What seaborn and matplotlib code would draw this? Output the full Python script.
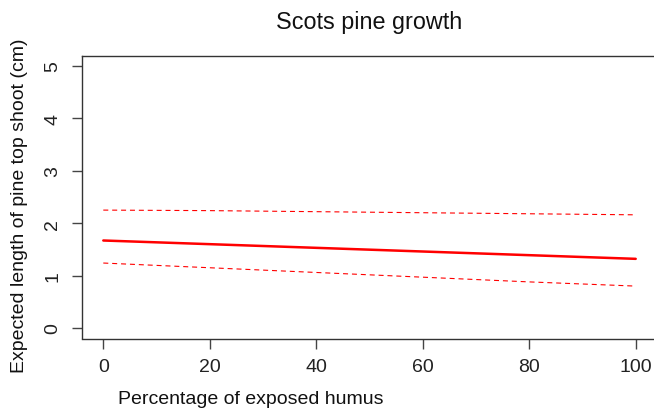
import matplotlib
matplotlib.use("Agg")
import matplotlib.pyplot as plt
import seaborn as sns
import pandas as pd

humus = [0, 20, 40, 60, 80, 100]
fit = [1.67, 1.60, 1.53, 1.46, 1.39, 1.32]
upper = [2.25, 2.24, 2.22, 2.20, 2.18, 2.16]
lower = [1.24, 1.15, 1.06, 0.97, 0.88, 0.80]
x_ticks = [0, 20, 40, 60, 80, 100]
y_ticks = [0, 1, 2, 3, 4, 5]

sns.set_style("white")
plt.rcParams['font.family'] = ['Liberation Sans', 'DejaVu Sans']

df = pd.DataFrame({"humus": humus, "fit": fit, "upper": upper, "lower": lower})

fig = plt.figure(figsize=(6.54, 4.10), dpi=100)
ax = fig.add_axes([82/654, 1 - 339.5/410, (657-82)/654, (339.5-56.5)/410])

sns.lineplot(data=df, x="humus", y="fit", ax=ax, color="#ff0000", linewidth=1.8)
sns.lineplot(data=df, x="humus", y="upper", ax=ax, color="#ff0000", linewidth=0.8)
sns.lineplot(data=df, x="humus", y="lower", ax=ax, color="#ff0000", linewidth=0.8)
for l in ax.lines[1:]:
    l.set_dashes((4.5, 3.5))

ax.set_xlim(-4, 104)
ax.set_ylim(-0.2, 5.2)
ax.set_xticks(x_ticks)
ax.set_yticks(y_ticks)
ax.set_xlabel("")
ax.set_ylabel("")
ax.tick_params(axis="both", direction="out", length=7, width=1, color="#444444",
               labelsize=14, labelcolor="#222222", bottom=True, left=True)
ax.tick_params(axis="x", pad=7)
ax.tick_params(axis="y", pad=8)
for lab in ax.get_yticklabels():
    lab.set_rotation(90)
    lab.set_va("center")
for s in ax.spines.values():
    s.set_color("#333333")
    s.set_linewidth(1.0)

fig.text(369.5/654, 1 - 22/410, "Scots pine growth", ha="center", va="center", fontsize=16.8, color="#111111")
fig.text(118/654, 1 - 400/410, "Percentage of exposed humus", ha="left", va="center", fontsize=14, color="#111111")
fig.text(20/654, 1 - 206/410, "Expected length of pine top shoot (cm)", ha="center", va="center",
         rotation=90, fontsize=14, color="#111111")

fig.savefig("out.png", dpi=100)
